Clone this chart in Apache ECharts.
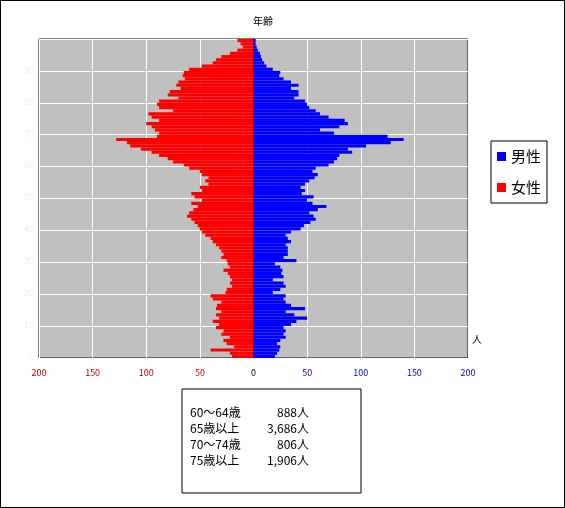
<!DOCTYPE html><html><head><meta charset="utf-8"><script src="https://cdn.jsdelivr.net/npm/echarts@6/dist/echarts.min.js"></script>
<style>html,body{margin:0;padding:0;background:#fff}#c{width:565px;height:508px;box-sizing:border-box;border:1px solid #000}</style></head><body><div id="c"></div><script>
const ages=Array.from({length:100},(_, i)=>String(i));
const male=[20,22,24,25,22,25,30,28,30,28,35,40,50,38,30,48,35,30,28,30,18,25,30,28,18,28,26,27,25,20,40,28,32,32,32,30,35,32,30,35,44,47,53,58,56,52,60,68,55,50,56,45,48,44,48,52,57,60,55,58,70,75,78,80,92,88,105,128,140,125,75,62,80,88,85,70,62,58,52,50,48,38,42,42,35,42,35,28,24,25,18,12,10,8,7,6,4,3,2,2];
const female=[20,22,40,18,25,28,22,30,28,35,32,38,32,35,30,35,34,30,38,40,26,25,20,22,20,22,24,28,22,24,25,30,28,30,32,35,38,40,45,48,50,52,55,58,62,60,56,52,58,48,55,58,48,50,42,45,42,48,50,60,65,75,80,88,95,105,115,118,128,90,88,92,95,100,88,95,98,75,88,90,88,70,80,78,68,72,70,64,66,65,60,48,38,35,30,22,15,10,12,15];
const summary=[["60〜64歳","888人"],["65歳以上","3,686人"],["70〜74歳","806人"],["75歳以上","1,906人"]];
const ch=echarts.init(document.getElementById('c'));
const F='"Noto Sans CJK JP",sans-serif';
ch.setOption({animation:false,textStyle:{fontFamily:F},
grid:{left:38,right:96,top:38,bottom:149,show:true,backgroundColor:'#c0c0c0',borderColor:'#000',borderWidth:1},
title:{text:'年齢',left:247,top:10,textStyle:{fontSize:10,fontWeight:'normal',color:'#000'}},
legend:{orient:'vertical',left:490,top:140,itemWidth:9,itemHeight:9,itemGap:16,icon:'rect',padding:[8,6],borderColor:'#000',borderWidth:1,backgroundColor:'#fff',textStyle:{fontSize:15,color:'#000'},data:['男性','女性']},
xAxis:{type:'value',min:-200,max:200,interval:50,name:'人',nameLocation:'end',nameGap:4,nameTextStyle:{fontSize:10,verticalAlign:'bottom',padding:[0,0,14,0]},
axisLine:{lineStyle:{color:'#000'}},axisTick:{show:false},splitLine:{lineStyle:{color:'#fff'}},
axisLabel:{fontSize:9,margin:10,formatter:v=>Math.abs(v),color:v=>v<0?'#c00000':(v>0?'#0000c0':'#000')}},
yAxis:{type:'category',data:ages,axisLine:{onZero:true,lineStyle:{color:'#000'}},axisTick:{interval:i=>i%10===0,length:3},
axisLabel:{interval:i=>i%10===0,color:'#eee',fontSize:9,margin:5},
splitLine:{show:true,interval:i=>i%10===0,lineStyle:{color:'#fff'}}},
series:[
{name:'男性',type:'bar',stack:'a',data:male,barCategoryGap:0,itemStyle:{color:'#0000ff'}},
{name:'女性',type:'bar',stack:'a',data:female.map(v=>-v),barCategoryGap:0,itemStyle:{color:'#ff0000'}}],
graphic:[{type:'rect',shape:{x:181,y:388,width:179,height:104},style:{fill:'#fff',stroke:'#000',lineWidth:1}},
...summary.flatMap((r,i)=>[{type:'text',left:189,top:405+i*16,style:{text:r[0],fontSize:12,fill:'#000',fontFamily:F}},
{type:'text',right:565-310,top:405+i*16,style:{text:r[1],fontSize:12,fill:'#000',fontFamily:F,align:'right'}}])]
});
</script></body></html>
